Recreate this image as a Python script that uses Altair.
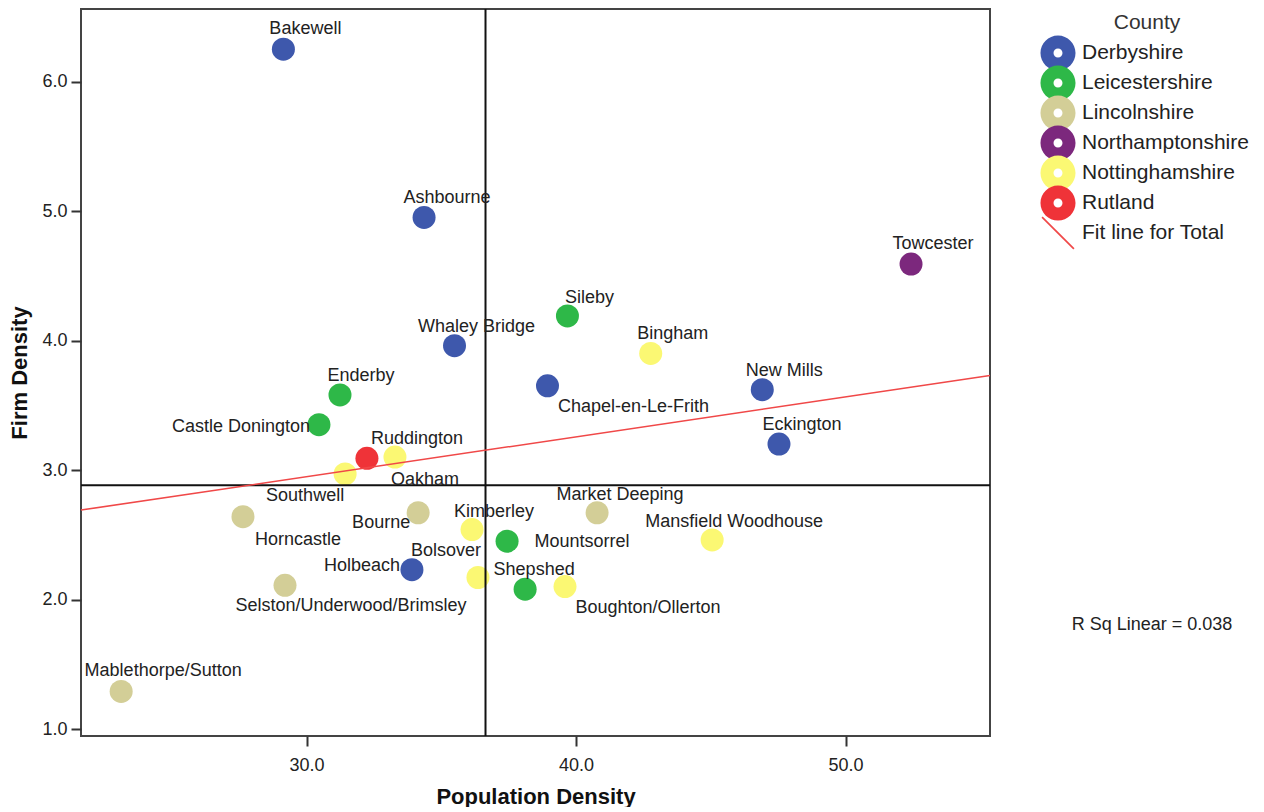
import altair as alt
import pandas as pd

# ---- data ----
towns = ["Bakewell", "Ashbourne", "Whaley Bridge", "Chapel-en-Le-Frith", "New Mills",
         "Eckington", "Bolsover", "Enderby", "Castle Donington", "Sileby",
         "Mountsorrel", "Shepshed", "Horncastle", "Bourne", "Market Deeping",
         "Mablethorpe/Sutton", "Holbeach", "Towcester", "Southwell", "Ruddington",
         "Kimberley", "Bingham", "Mansfield Woodhouse", "Boughton/Ollerton",
         "Selston/Underwood/Brimsley", "Oakham"]
county = ["Derbyshire"] * 7 + ["Leicestershire"] * 5 + ["Lincolnshire"] * 5 + \
         ["Northamptonshire"] + ["Nottinghamshire"] * 7 + ["Rutland"]
pop_density = [29.14, 34.36, 35.49, 38.94, 46.91, 47.53, 33.91, 31.24, 30.46, 39.68,
               37.44, 38.11, 27.64, 34.14, 40.78, 23.12, 29.20, 52.43, 31.43, 33.28,
               36.14, 42.77, 45.05, 39.59, 36.36, 32.24]
firm_density = [6.25, 4.95, 3.96, 3.65, 3.62, 3.20, 2.23, 3.58, 3.35, 4.19,
                2.45, 2.08, 2.64, 2.67, 2.67, 1.29, 2.11, 4.59, 2.97, 3.10,
                2.54, 3.90, 2.46, 2.10, 2.17, 3.09]
# label placement offsets (pixels from the point centre)
label_dx = [22, 23, 22, 86, 22, 23, 34, 21, -78, 22, 75, 9, 55, -37, 23, 42, 77, 22,
            -40, 22, 22, 22, 22, 83, -127, 58]
label_dy = [-20, -19, -19, 21, -19, -19, -19, -19, 2, -18, 1, -19, 23, 10, -18, -20,
            -19, -20, 22, -18, -18, -19, -18, 21, 29, 22]

legend_names = ["Derbyshire", "Leicestershire", "Lincolnshire", "Northamptonshire",
                "Nottinghamshire", "Rutland", "Fit line for Total"]
legend_colors = ["#3E58AC", "#2EB848", "#D3CE97", "#7C287D", "#FBF873", "#EF3338", "#F04848"]
fit_color = "#F04848"

ref_pop = [36.64]
ref_firm = [2.883]
rsq_text = ["R Sq Linear = 0.038"]
x_ticks = [30, 40, 50]
y_ticks = [1, 2, 3, 4, 5, 6]
x_domain = [21.63, 55.36]
y_domain = [0.946, 6.56]

FONT = "Liberation Sans"
# legend glyphs in unit space
RING = ("M1.46,0A1.46,1.46,0,1,1,-1.46,0A1.46,1.46,0,1,1,1.46,0Z"
        "M0.375,0A0.375,0.375,0,1,0,-0.375,0A0.375,0.375,0,1,0,0.375,0Z")
SLASH = "M-1.375,-1.275L-1.275,-1.375L1.375,1.275L1.275,1.375Z"
legend_shapes = [RING] * 6 + [SLASH]

df = pd.DataFrame({"town": towns, "county": county, "pop": pop_density,
                   "firm": firm_density, "ldx": label_dx, "ldy": label_dy})

xenc = alt.X("pop:Q", scale=alt.Scale(domain=x_domain, nice=False, zero=False),
             axis=alt.Axis(values=x_ticks, format=".1f", title="Population Density",
                           tickSize=10, labelPadding=10, titlePadding=12))
yenc = alt.Y("firm:Q", scale=alt.Scale(domain=y_domain, nice=False, zero=False),
             axis=alt.Axis(values=y_ticks, format=".1f", title="Firm Density",
                           tickSize=10, labelPadding=4, titlePadding=10))

base = alt.Chart(df)
cscale = alt.Scale(domain=legend_names, range=legend_colors)
sscale = alt.Scale(domain=legend_names, range=legend_shapes)

county_legend = alt.Legend(
    title="County", orient="right", offset=53, padding=3,
    titleFont=FONT, titleFontSize=21, titleFontWeight="normal", titleColor="#333",
    titleAnchor="middle", titlePadding=8,
    labelFont=FONT, labelFontSize=21, labelColor="#222", labelOffset=12, labelLimit=400,
    symbolSize=576, symbolOpacity=1, symbolStrokeWidth=0, rowPadding=-12,
)

points = base.mark_circle(size=529, opacity=1).encode(
    x=xenc, y=yenc,
    color=alt.Color("county:N", scale=cscale, legend=county_legend),
)

legend_layer = base.transform_filter("false").mark_point(filled=True, opacity=1).encode(
    x="pop:Q", y="firm:Q",
    color=alt.Color("county:N", scale=cscale, legend=county_legend),
    shape=alt.Shape("county:N", scale=sscale, legend=county_legend),
)

ref_df = pd.DataFrame({"rx": ref_pop, "ry": ref_firm})
vrule = alt.Chart(ref_df).mark_rule(color="#111", strokeWidth=2).encode(x="rx:Q")
hrule = alt.Chart(ref_df).mark_rule(color="#111", strokeWidth=2).encode(y="ry:Q")

fit = base.transform_regression("pop", "firm", extent=x_domain).mark_line(
    color=fit_color, strokeWidth=1.5).encode(x="pop:Q", y="firm:Q")

labels = base.mark_text(font=FONT, fontSize=18, color="#222",
                        dx={"expr": "datum.ldx"}, dy={"expr": "datum.ldy"}).encode(
    x="pop:Q", y="firm:Q", text="town:N")

rsq = alt.Chart(pd.DataFrame({"t": rsq_text})).mark_text(
    font=FONT, fontSize=18, color="#222").encode(
    x=alt.value(1071), y=alt.value(616), text="t:N")

chart = alt.layer(points, legend_layer, vrule, hrule, fit, labels, rsq).properties(
    width=909, height=727,
    padding={"left": 0, "top": 0, "right": 0, "bottom": 0},
).configure_view(stroke="#444", strokeWidth=2).configure_axis(
    domain=False, grid=False, tickColor="#333", tickWidth=2,
    labelFont=FONT, labelFontSize=18, labelColor="#222",
    titleFont=FONT, titleFontSize=22, titleFontWeight="bold", titleColor="#111",
)

chart.save("out.html", embed_options={"renderer": "svg", "actions": False})
